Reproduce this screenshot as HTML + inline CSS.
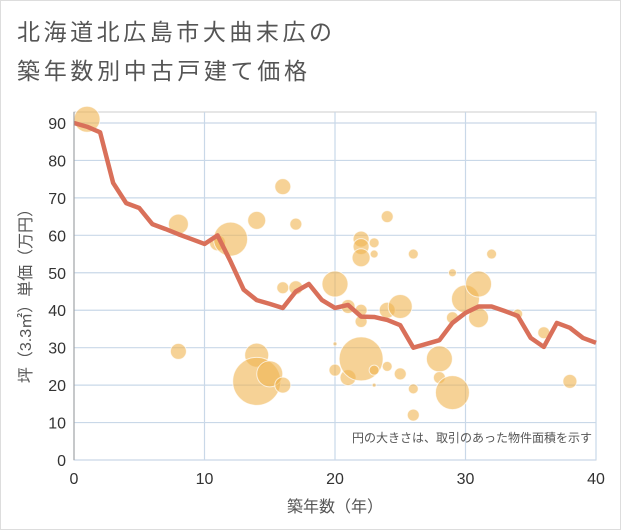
<!DOCTYPE html>
<html><head><meta charset="utf-8"><style>
body{margin:0;background:#fff;}
svg{display:block;font-family:"Liberation Sans","Noto Sans CJK JP",sans-serif;}
</style></head><body>
<svg id="c" width="621" height="530" viewBox="0 0 621 530">
<rect x="0.5" y="0.5" width="620" height="529" fill="#fff" stroke="#ddd"/>
<text x="17" y="40" font-size="23" fill="#555" textLength="315" lengthAdjust="spacing">北海道北広島市大曲末広の</text>
<text x="17" y="79" font-size="23" fill="#555" textLength="290" lengthAdjust="spacing">築年数別中古戸建て価格</text>
<g id="grid"></g>
<g id="bubbles"></g>
<g id="line"></g>
<g id="axes"></g>
<text x="592" y="442" font-size="12" fill="#555" text-anchor="end">円の大きさは、取引のあった物件面積を示す</text>
<text x="335" y="512" font-size="16" fill="#555" text-anchor="middle">築年数（年）</text>
<text transform="translate(31,292) rotate(-90)" font-size="16" fill="#555" text-anchor="middle">坪（3.3㎡）単価（万円）</text>
</svg>
<script>
const xTicks=[0,10,20,30,40];
const yTicks=[0,10,20,30,40,50,60,70,80,90];
const lineYears=[0,1,2,3,4,5,6,7,8,9,10,11,12,13,14,15,16,17,18,19,20,21,22,23,24,25,26,27,28,29,30,31,32,33,34,35,36,37,38,39,40];
const linePrices=[90,89,87.5,74,68.6,67.3,63,61.7,60.3,59,57.7,60,53,45.5,42.7,41.7,40.6,45,47,42.7,40.6,41.4,38.3,38.2,37.4,36,30,31,32,36.6,39.3,41,41,39.8,38.5,32.6,30.2,36.6,35.3,32.6,31.3];
const bubX=[1,8,8,11,12,14,14,14,15,16,16,16,17,17,20,20,20,21,21,22,22,22,22,22,22,23,23,23,23,24,24,24,25,25,26,26,26,28,28,29,29,29,30,31,31,32,34,36,38];
const bubY=[91,63,29,58,59,64,28,21,23,73,20,46,63,46,47,24,31,41,22,59,57,54,40,37,27,58,55,24,20,65,40,25,41,23,55,19,12,27,22,50,38,18,43,47,38,55,39,34,21];
const bubR=[13,10,8,8,17,9,12,24,13,8,8,6,6,7,13,6,2,7,8,8,8,9,6,6,22,5,4,5,2,6,8,5,12,6,5,5,6,13,6,4,6,17,14,13,10,5,5,6,7];
const NS="http://www.w3.org/2000/svg";
const X0=74,X1=596,Y0=460,Y90=123;
const sx=v=>X0+(X1-X0)*v/40;
const sy=v=>Y0-(Y0-Y90)*v/90;
function mk(t,a,p){const e=document.createElementNS(NS,t);for(const k in a)e.setAttribute(k,a[k]);p.appendChild(e);return e;}
const grid=document.getElementById('grid'),axes=document.getElementById('axes');
mk('rect',{x:X0,y:112,width:X1-X0,height:Y0-112,fill:'none',stroke:'#ccc'},grid);
yTicks.forEach(v=>{
 const l=mk('line',{x1:X0,x2:X1,y1:sy(v),y2:sy(v),stroke:'#c9d8e8','stroke-width':1.2},grid);
 
 
 const t=mk('text',{x:X0-8,y:sy(v)+6,'font-size':16,fill:'#333','text-anchor':'end'},axes);
 t.textContent=v;
 
 
});
xTicks.forEach(v=>{
 const l=mk('line',{x1:sx(v),x2:sx(v),y1:112,y2:Y0,stroke:'#c9d8e8','stroke-width':1.2},grid);
 
 
 const t=mk('text',{x:sx(v),y:Y0+24,'font-size':16,fill:'#333','text-anchor':'middle'},axes);
 t.textContent=v;
 
 
});
mk('line',{x1:X0,x2:X0,y1:112,y2:Y0,stroke:'#999'},axes);
const bg=document.getElementById('bubbles');
bubX.forEach((x,i)=>{
 const c=mk('circle',{cx:sx(x),cy:sy(bubY[i]),r:bubR[i],fill:'rgba(240,180,80,0.6)',stroke:'rgba(255,255,255,0.7)','stroke-width':1},bg);
 
 
});
const pts=lineYears.map((x,i)=>sx(x)+','+sy(linePrices[i])).join(' ');
const pl=mk('polyline',{points:pts,fill:'none',stroke:'#d9705a','stroke-width':4.5,'stroke-linejoin':'round'},document.getElementById('line'));


</script>
</body></html>
